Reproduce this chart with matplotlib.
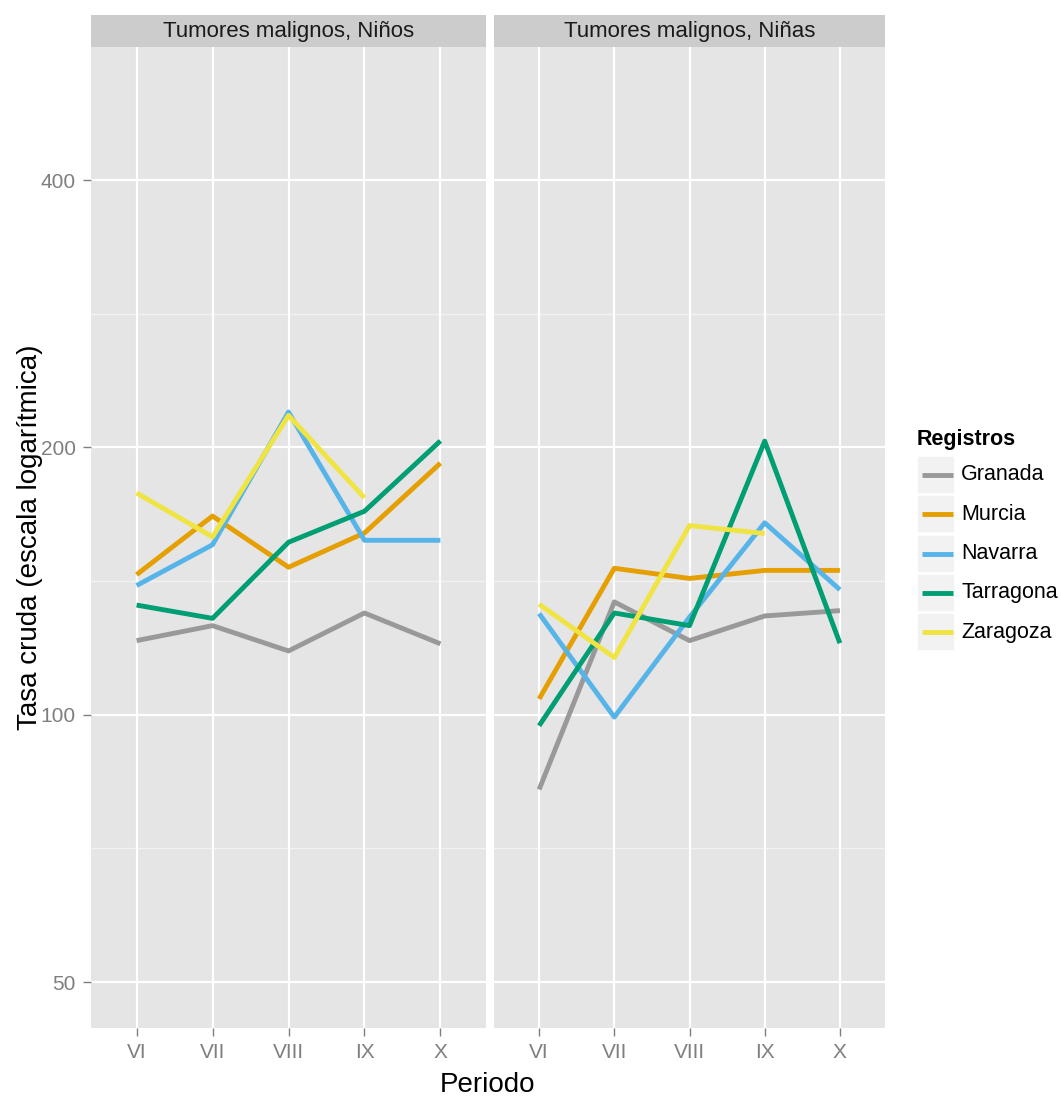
import matplotlib
matplotlib.use("Agg")
import matplotlib.pyplot as plt
from matplotlib.patches import Rectangle
from matplotlib.lines import Line2D
import numpy as np

plt.rcParams['font.family'] = ['Liberation Sans', 'DejaVu Sans']

periodos = ["VI", "VII", "VIII", "IX", "X"]
registros = ["Granada", "Murcia", "Navarra", "Tarragona", "Zaragoza"]
colores = ["#999999", "#E69F00", "#56B4E9", "#009E73", "#F0E442"]
paneles = ["Tumores malignos, Niños", "Tumores malignos, Niñas"]

ninos_granada = [121.2, 126.0, 118.0, 130.2, 120.2]
ninos_murcia = [143.8, 167.4, 146.6, 160.2, 192.0]
ninos_navarra = [139.8, 155.4, 219.2, 157.2, 157.2]
ninos_tarragona = [132.9, 128.4, 156.4, 169.5, 203.4]
ninos_zaragoza = [177.7, 158.6, 217.3, 175.5, None]

ninas_granada = [82.4, 134.0, 121.2, 129.2, 131.0]
ninas_murcia = [104.2, 146.2, 142.4, 145.4, 145.4]
ninas_navarra = [130.0, 99.4, 128.8, 164.5, 138.3]
ninas_tarragona = [97.2, 130.2, 126.0, 203.3, 120.4]
ninas_zaragoza = [133.2, 116.0, 163.3, 160.0, None]

datos = [
    [ninos_granada, ninos_murcia, ninos_navarra, ninos_tarragona, ninos_zaragoza],
    [ninas_granada, ninas_murcia, ninas_navarra, ninas_tarragona, ninas_zaragoza],
]

y_breaks = [50, 100, 200, 400]
y_minor = [70.71, 141.42, 282.84]
ylim = (44.4, 564.7)

W, H = 1061, 1099
fig = plt.figure(figsize=(W / 100, H / 100), dpi=100)
fig.patch.set_facecolor("white")

def fx(px):
    return px / W

def fy(py):
    return 1 - py / H

panel_x = [(91, 486), (494, 885)]
top, bot = 47, 1028
strip_top = 15
tick_gray = "#7F7F7F"

for i, (x0, x1) in enumerate(panel_x):
    ax = fig.add_axes([fx(x0), fy(bot), fx(x1 - x0), (bot - top) / H])
    ax.set_facecolor("#E5E5E5")
    ax.set_yscale("log")
    ax.set_ylim(*ylim)
    ax.set_xlim(-0.6, 4.6)
    for yv in y_minor:
        ax.axhline(yv, color="#F2F2F2", lw=1.0, zorder=0.5)
    for yv in y_breaks:
        ax.axhline(yv, color="white", lw=1.6, zorder=0.6)
    for xv in range(len(periodos)):
        ax.axvline(xv, color="white", lw=1.6, zorder=0.6)
    xs = np.arange(len(periodos))
    for serie, col in zip(datos[i], colores):
        vals = np.array([np.nan if v is None else v for v in serie], dtype=float)
        ax.plot(xs, vals, color=col, lw=3.5, solid_capstyle="butt", zorder=2)
    for s in ax.spines.values():
        s.set_visible(False)
    ax.set_xticks(xs)
    ax.set_xticklabels(periodos)
    ax.yaxis.set_minor_locator(matplotlib.ticker.NullLocator())
    ax.tick_params(axis="both", colors=tick_gray, labelcolor=tick_gray,
                   labelsize=15, length=6, width=1, pad=5)
    if i == 0:
        ax.set_yticks(y_breaks)
        ax.set_yticklabels([str(b) for b in y_breaks])
    else:
        ax.set_yticks([])
    # strip
    sax = fig.add_axes([fx(x0), fy(top), fx(x1 - x0), (top - strip_top) / H])
    sax.set_facecolor("#CCCCCC")
    sax.set_xticks([])
    sax.set_yticks([])
    for s in sax.spines.values():
        s.set_visible(False)
    sax.text(0.5, 0.47, paneles[i], ha="center", va="center", fontsize=16,
             color="#1A1A1A", transform=sax.transAxes)

fig.text(fx(488), fy(1085), "Periodo", ha="center", va="center", fontsize=20)
fig.text(fx(30), fy(537), "Tasa cruda (escala logarítmica)", ha="center",
         va="center", rotation=90, fontsize=20)

# legend
lax = fig.add_axes([0, 0, 1, 1], facecolor="none")
lax.set_xlim(0, W)
lax.set_ylim(H, 0)
lax.axis("off")
lax.text(917, 440, "Registros", fontsize=15.5, fontweight="bold", va="center", ha="left")
row0, dy = 475, 39.3
for k, (nombre, col) in enumerate(zip(registros, colores)):
    yc = row0 + k * dy
    lax.add_patch(Rectangle((917, yc - 19), 38, 38, facecolor="#F2F2F2",
                            edgecolor="white", lw=1.2))
    lax.add_line(Line2D([922, 953], [yc, yc], color=col, lw=3.5, solid_capstyle="butt"))
    lax.text(961, yc, nombre, fontsize=15.5, va="center", ha="left")

fig.savefig("out.png", dpi=100, facecolor="white")
